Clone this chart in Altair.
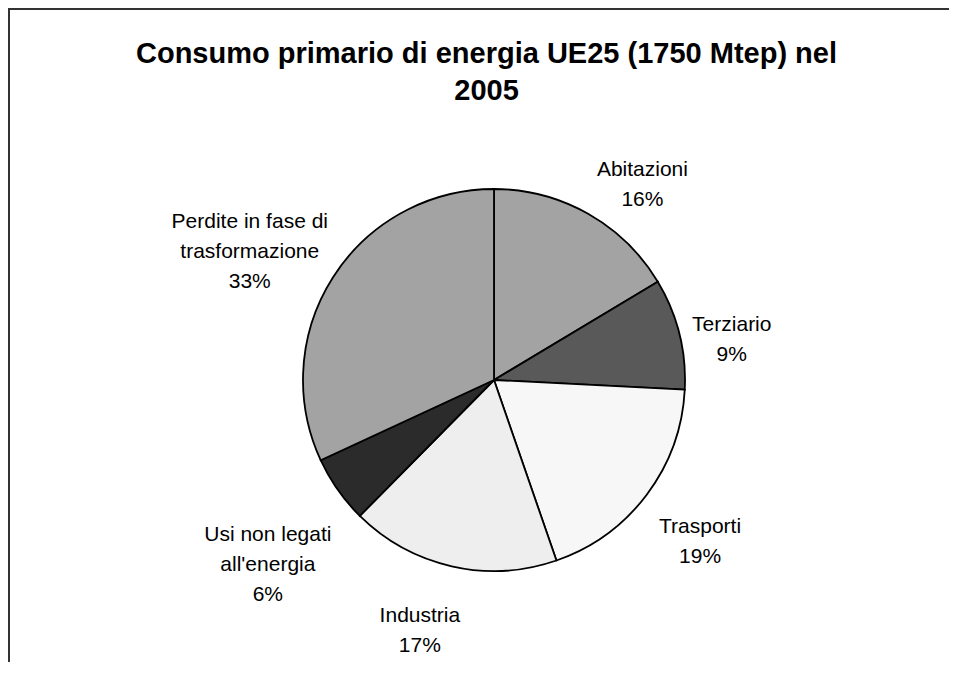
import altair as alt
import pandas as pd

# ---- data ----
categories = [
    "Abitazioni",
    "Terziario",
    "Trasporti",
    "Industria",
    "Usi non legati all'energia",
    "Perdite in fase di trasformazione",
]
shares = [16.4, 9.4, 18.9, 17.7, 5.7, 31.9]          # slice sizes (%)
pct_labels = ["16%", "9%", "19%", "17%", "6%", "33%"]  # printed labels
label_names = [
    "Abitazioni",
    "Terziario",
    "Trasporti",
    "Industria",
    "Usi non legati\nall'energia",
    "Perdite in fase di\ntrasformazione",
]
colors = ["#a3a3a3", "#595959", "#f7f7f7", "#eeeeee", "#2b2b2b", "#a3a3a3"]

title_lines = ["Consumo primario di energia UE25 (1750 Mtep) nel", "2005"]

# ---- layout (not data) ----
W, H = 941, 654
CX, CY = 486, 372
R = 191
label_shift = [1.6, 0.3, -0.4, 1.3, 0.2, 0.1]       # small angular nudges (% of circle)
label_radius = [257, 244, 253, 247, 274, 291]      # distance of label centre from pie centre

df = pd.DataFrame({
    "idx": list(range(len(categories))),
    "category": categories,
    "share": shares,
    "text": [n + "\n" + p for n, p in zip(label_names, pct_labels)],
    "shift": label_shift,
    "lr": label_radius,
})

theta_scale = alt.Scale(domain=[0, 100])

pie = alt.Chart(df).mark_arc(
    outerRadius=R, stroke="#000000", strokeWidth=1.8
).encode(
    theta=alt.Theta("share:Q", stack=True, scale=theta_scale),
    color=alt.Color("category:N", scale=alt.Scale(domain=categories, range=colors), legend=None),
    order=alt.Order("idx:Q"),
    x=alt.value(CX),
    y=alt.value(CY),
)

labels = alt.Chart(df).transform_window(
    cum="sum(share)", sort=[alt.SortField("idx")], frame=[None, 0]
).transform_calculate(
    mid="datum.cum - datum.share / 2 + datum.shift"
).mark_text(
    font="Liberation Sans", fontSize=21, lineBreak="\n", lineHeight=30,
    align="center", baseline="middle", color="#000000",
).encode(
    theta=alt.Theta("mid:Q", stack=False, scale=theta_scale),
    radius=alt.Radius("lr:Q", scale=None),
    text="text:N",
    x=alt.value(CX),
    y=alt.value(CY),
)

frame_top = alt.Chart(df).mark_rule(color="#333333", strokeWidth=2).encode(
    x=alt.value(0), x2=alt.value(W), y=alt.value(1)
)
frame_left = alt.Chart(df).mark_rule(color="#333333", strokeWidth=2).encode(
    x=alt.value(1), y=alt.value(0), y2=alt.value(H)
)

chart = alt.layer(frame_top, frame_left, pie, labels).properties(
    width=W,
    height=H,
    autosize=alt.AutoSizeParams(type="none"),
    padding={"left": 0, "right": 0, "top": 0, "bottom": 0},
    title=alt.TitleParams(
        title_lines,
        font="Liberation Sans", fontSize=29, fontWeight="bold", color="#000000",
        anchor="middle", align="center", baseline="top", offset=0, dx=8, dy=99,
        lineHeight=37,
    ),
).configure_view(stroke=None).configure(background="white")

chart.save("out.html", embed_options={"renderer": "svg", "actions": False})
